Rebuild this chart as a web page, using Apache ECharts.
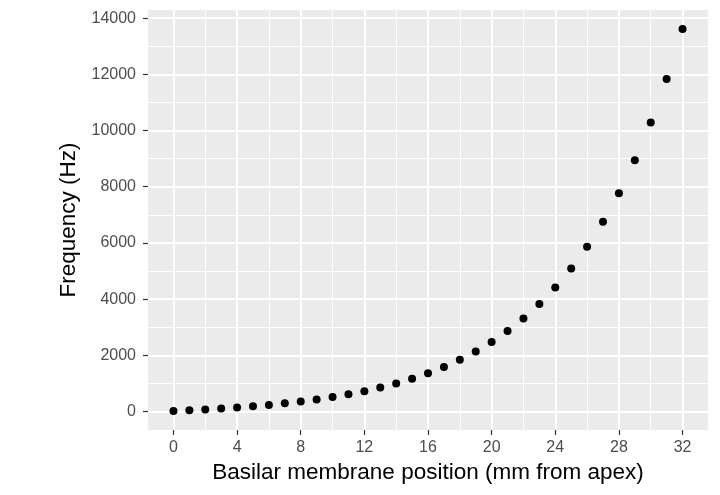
<!DOCTYPE html>
<html>
<head>
<meta charset="utf-8">
<script src="https://cdn.jsdelivr.net/npm/echarts@6/dist/echarts.min.js"></script>
<style>
  html, body { margin: 0; padding: 0; background: #fff; }
  #main { width: 720px; height: 495px; }
</style>
</head>
<body>
<div id="main"></div>
<script>
// position along the basilar membrane (mm from apex)
var positions = [0, 1, 2, 3, 4, 5, 6, 7, 8, 9, 10, 11, 12, 13, 14, 15, 16,
                 17, 18, 19, 20, 21, 22, 23, 24, 25, 26, 27, 28, 29, 30, 31, 32];
// characteristic frequency (Hz)
var frequencies = [20, 44, 72, 105, 142, 184, 233, 290, 354, 428, 513, 611, 722,
                   851, 999, 1168, 1363, 1586, 1843, 2138, 2476, 2864, 3310, 3822,
                   4410, 5085, 5860, 6750, 7771, 8944, 10290, 11837, 13612];
var xTicks = [0, 4, 8, 12, 16, 20, 24, 28, 32];
var xMinor = [2, 6, 10, 14, 18, 22, 26, 30];
var yTicks = [0, 2000, 4000, 6000, 8000, 10000, 12000, 14000];
var yMinor = [1000, 3000, 5000, 7000, 9000, 11000, 13000];

var points = positions.map(function (p, i) { return [p, frequencies[i]]; });

var chart = echarts.init(document.getElementById('main'));

var xMin = -1.6, xMax = 33.6;
var yMin = -660, yMax = 14292;

// panel grid lines as mark lines (major white, minor thinner)
function gridLines(vals, key, width) {
  return vals.map(function (v) {
    var d = {}; d[key] = v;
    d.lineStyle = { color: '#FFFFFF', width: width, type: 'solid', opacity: 1 };
    return d;
  });
}
var lines = [].concat(
  gridLines(yMinor, 'yAxis', 1),
  gridLines(xMinor, 'xAxis', 1),
  gridLines(yTicks, 'yAxis', 2),
  gridLines(xTicks, 'xAxis', 2)
);

var axisCommon = {
  axisLine: { show: false, onZero: false },
  splitLine: { show: false },
  axisTick: { show: true, length: 5, lineStyle: { color: '#333333', width: 1.2 } }
};

var option = {
  animation: false,
  textStyle: { fontFamily: 'Liberation Sans, Arial, sans-serif' },
  grid: { left: 148, right: 12, top: 10, bottom: 65, show: true,
          backgroundColor: '#EBEBEB', borderWidth: 0 },
  xAxis: {
    type: 'value', min: xMin, max: xMax,
    axisLine: axisCommon.axisLine, splitLine: axisCommon.splitLine,
    axisTick: Object.assign({ customValues: xTicks }, axisCommon.axisTick),
    axisLabel: { customValues: xTicks, color: '#4D4D4D', fontSize: 16, margin: 10,
                 formatter: function (v) { return String(v); } },
    name: 'Basilar membrane position (mm from apex)',
    nameLocation: 'middle', nameGap: 29,
    nameTextStyle: { color: '#000', fontSize: 22.5 }
  },
  yAxis: {
    type: 'value', min: yMin, max: yMax,
    axisLine: axisCommon.axisLine, splitLine: axisCommon.splitLine,
    axisTick: Object.assign({ customValues: yTicks }, axisCommon.axisTick),
    axisLabel: { customValues: yTicks, color: '#4D4D4D', fontSize: 16, margin: 12,
                 formatter: function (v) { return String(v); } },
    name: 'Frequency (Hz)',
    nameLocation: 'middle', nameGap: 67,
    nameTextStyle: { color: '#000', fontSize: 22.5 }
  },
  series: [{
    type: 'scatter',
    z: 1,
    data: [],
    markLine: { silent: true, z: 1, symbol: 'none', label: { show: false },
                animation: false, data: lines }
  }, {
    type: 'scatter',
    z: 10,
    symbol: 'circle', symbolSize: 8,
    itemStyle: { color: '#000000', opacity: 1 },
    data: points
  }]
};
chart.setOption(option);
</script>
</body>
</html>
